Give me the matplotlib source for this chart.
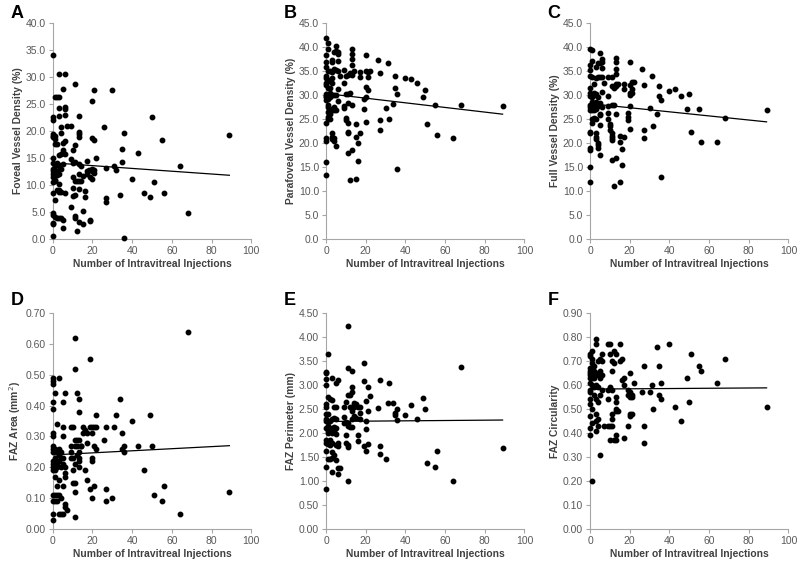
import matplotlib
matplotlib.use("Agg")
import matplotlib.pyplot as plt
import matplotlib.ticker as ticker

plt.rcParams['font.family'] = ['Liberation Sans', 'DejaVu Sans']

# panel data: injections -> list of measured values
fovea_vd = {0: [34.0, 22.5, 22.0, 19.5, 19.0, 18.8, 15.0, 14.0, 13.0, 12.5, 12.0, 11.5, 10.5, 8.5, 4.8, 4.5, 3.0, 2.7, 0.5],
            1: [26.2, 19.0, 18.5, 17.5, 13.5, 11.0, 10.8, 7.2, 4.0],
            2: [26.2, 17.5, 14.0, 12.5, 11.8, 9.0, 3.8],
            3: [30.6, 26.2, 24.2, 22.8, 15.5, 13.5, 12.0, 10.2, 8.7, 9.0, 3.8],
            4: [20.8, 19.6, 15.8, 13.0, 8.7, 3.8],
            5: [27.8, 17.8, 16.5, 16.0, 13.8, 3.6, 2.0],
            6: [30.5, 24.4, 24.0, 23.0, 18.2, 15.8, 8.5],
            7: [21.0], 9: [21.0, 14.8, 6.0], 10: [16.5, 14.0, 11.4, 9.5, 8.0],
            11: [28.7, 17.4, 14.3, 10.8, 8.2, 4.2, 3.8], 12: [10.8, 1.5],
            13: [22.8, 19.8, 19.4, 18.8, 13.8, 12.0, 10.8, 9.3, 3.2], 14: [10.8, 13.5],
            15: [11.7, 5.2, 2.8], 16: [8.8, 7.8], 17: [14.5, 12.5, 12.0], 18: [12.8],
            19: [11.5, 3.6, 3.3], 20: [25.5, 18.7, 13.0, 12.5, 11.2], 21: [27.6, 18.4, 12.8, 12.3],
            22: [15.0], 26: [20.8], 27: [13.2, 7.5, 6.9], 30: [27.6], 31: [13.5], 32: [12.8],
            34: [8.2], 35: [16.6, 14.3], 36: [19.6, 0.2], 40: [11.2], 43: [16.0], 46: [8.5],
            49: [7.8], 50: [22.6], 51: [10.5], 55: [18.3], 56: [8.6], 64: [13.5], 68: [4.9], 89: [19.3]}

parafovea_vd = {0: [41.8, 38.3, 36.8, 35.8, 34.0, 33.5, 32.5, 32.0, 30.2, 29.8, 29.5, 29.0, 24.2, 21.0, 20.5, 16.0, 13.3],
                1: [40.8, 39.5, 35.0, 33.2, 31.5, 30.0, 29.2, 28.0, 27.5, 26.5, 25.5, 25.0],
                2: [35.0, 33.0, 31.5, 30.5, 29.5, 27.0, 26.0, 25.0],
                3: [37.3, 36.8, 34.8, 33.5, 32.5, 30.0, 26.8, 22.0, 21.2, 20.8],
                4: [39.0, 35.5, 30.0, 27.5, 26.8, 21.0, 20.5],
                5: [40.3, 39.2, 35.3, 30.0, 26.8, 19.3],
                6: [39.0, 38.5, 37.0, 35.0, 31.2, 28.8],
                7: [34.0], 9: [35.3, 32.5, 27.6, 27.2], 10: [34.0, 30.3, 25.3, 24.8],
                11: [34.2, 30.2, 28.3, 24.2, 22.2, 22.0, 18.0], 12: [34.5, 30.4, 12.3],
                13: [39.5, 38.5, 37.5, 36.3, 34.2, 28.0, 18.5], 14: [35.0],
                15: [24.0, 21.3, 12.6], 16: [20.0, 16.2], 17: [34.8, 33.8, 22.0],
                19: [29.1, 27.0], 20: [38.3, 35.0, 31.6, 29.5, 24.3], 21: [34.8, 33.7, 31.0],
                22: [35.0], 26: [37.3], 27: [34.5, 24.8, 22.7], 30: [27.2], 31: [36.6], 32: [25.0],
                34: [28.2], 35: [34.0, 31.5], 36: [30.2, 14.5], 40: [33.5], 43: [33.3], 46: [32.4],
                49: [29.5], 50: [31.0], 51: [23.9], 55: [27.9], 56: [21.7], 64: [21.0], 68: [27.9], 89: [27.8]}

full_vd = {0: [39.6, 36.3, 35.2, 34.0, 31.5, 30.5, 29.8, 28.0, 27.5, 26.8, 22.3, 22.0, 19.0, 18.5, 15.1, 11.8],
           1: [39.3, 37.0, 33.8, 30.0, 29.5, 28.5, 27.8, 26.8, 25.0, 24.2],
           2: [32.2, 30.5, 30.0, 28.2, 26.8, 25.3],
           3: [35.8, 33.5, 30.3, 28.5, 27.0, 25.0, 22.0, 21.2, 20.8],
           4: [36.7, 33.7, 29.5, 27.8, 20.0, 19.5, 19.0],
           5: [38.8, 36.7, 33.8, 28.3, 26.0, 25.8, 23.8, 17.4],
           6: [37.5, 36.8, 35.6, 33.8, 30.6, 27.5],
           7: [32.5], 9: [33.8, 29.7, 27.8, 26.2, 25.0], 10: [24.0, 23.5, 22.8],
           11: [33.8, 31.8, 28.0, 22.0, 21.5, 21.0, 20.6, 16.5], 12: [31.5, 28.0, 11.1],
           13: [37.6, 36.8, 35.4, 34.4, 32.2, 31.8, 26.0, 16.8], 14: [32.2],
           15: [21.5, 20.2, 11.9], 16: [18.7, 15.4], 17: [32.2, 31.2, 21.2],
           19: [26.2, 25.5, 24.7], 20: [36.8, 32.0, 30.5, 30.0, 27.8, 23.0], 21: [32.7, 31.3, 30.5],
           22: [32.7], 26: [35.5], 27: [32.1, 22.7, 21.0], 30: [27.2], 31: [34.0], 32: [23.5],
           34: [26.0], 35: [31.8, 29.8], 36: [29.0, 12.9], 40: [30.9], 43: [31.3], 46: [29.7],
           49: [27.1], 50: [30.1], 51: [22.3], 55: [27.0], 56: [20.3], 64: [20.3], 68: [25.3], 89: [26.8]}

faz_area = {0: [0.49, 0.48, 0.47, 0.41, 0.39, 0.31, 0.30, 0.27, 0.26, 0.25, 0.22, 0.21, 0.20, 0.19, 0.11, 0.09, 0.05, 0.03],
            1: [0.44, 0.26, 0.23, 0.21, 0.20, 0.19, 0.17, 0.11, 0.09],
            2: [0.34, 0.25, 0.22, 0.21, 0.20, 0.14, 0.11, 0.09],
            3: [0.49, 0.26, 0.24, 0.22, 0.16, 0.11, 0.05],
            4: [0.25, 0.23, 0.20, 0.10, 0.05],
            5: [0.41, 0.33, 0.30, 0.23, 0.21, 0.14, 0.05],
            6: [0.44, 0.20, 0.18, 0.17, 0.08, 0.07],
            7: [0.06], 9: [0.33, 0.27, 0.25, 0.23], 10: [0.33, 0.23, 0.19, 0.15],
            11: [0.62, 0.52, 0.29, 0.27, 0.21, 0.15, 0.12, 0.04], 12: [0.44, 0.29, 0.27, 0.24],
            13: [0.42, 0.38, 0.29, 0.25, 0.23, 0.22, 0.20], 14: [0.27, 0.27],
            15: [0.33, 0.31], 16: [0.32, 0.19], 17: [0.31, 0.28, 0.16],
            19: [0.55, 0.33, 0.13], 20: [0.33, 0.31, 0.23, 0.22, 0.10], 21: [0.33, 0.27, 0.14],
            22: [0.37, 0.33, 0.26], 26: [0.29], 27: [0.33, 0.13, 0.09], 30: [0.10], 31: [0.33],
            32: [0.37], 34: [0.42], 35: [0.31, 0.26], 36: [0.27, 0.25], 40: [0.35], 43: [0.27],
            46: [0.19], 49: [0.37], 50: [0.27], 51: [0.11], 55: [0.09], 56: [0.14], 64: [0.05],
            68: [0.64], 89: [0.12]}

faz_perim = {0: [3.27, 3.25, 3.13, 3.00, 2.60, 2.55, 2.40, 2.30, 2.25, 2.10, 1.85, 1.80, 1.63, 1.30, 0.83],
             1: [3.65, 2.75, 2.40, 2.22, 2.15, 2.05, 2.00, 1.78, 1.45],
             2: [2.70, 2.25, 2.05, 1.85, 1.75, 1.45],
             3: [3.15, 2.68, 2.30, 2.10, 2.00, 1.80, 1.60, 1.48, 1.18],
             4: [2.55, 2.32, 2.12, 2.05, 1.55],
             5: [3.05, 2.55, 2.30, 2.10, 1.97, 1.75, 1.43],
             6: [3.10, 1.80, 1.72, 1.28, 1.15],
             7: [1.28], 9: [2.55, 2.33, 2.20], 10: [2.65, 2.22, 1.95, 1.80],
             11: [4.22, 3.35, 2.80, 2.20, 2.15, 1.75, 1.70, 1.00], 12: [2.80, 2.55, 2.12],
             13: [3.30, 2.95, 2.85, 2.55, 2.45, 2.30, 2.12], 14: [2.63, 2.55, 2.35],
             15: [2.60, 2.32], 16: [2.55, 1.95, 1.83], 17: [2.55, 2.42, 2.30],
             19: [3.45, 3.08, 1.72], 20: [2.67, 2.25, 2.08, 1.63], 21: [2.95, 2.45, 1.78],
             22: [2.78], 26: [2.53], 27: [3.10, 1.72, 1.57], 30: [1.46], 31: [2.62], 32: [3.05],
             34: [2.63], 35: [2.42, 2.38], 36: [2.50, 2.28], 40: [2.38], 43: [2.58], 46: [2.30],
             49: [2.72], 50: [2.50], 51: [1.38], 55: [1.30], 56: [1.62], 64: [1.00], 68: [3.38], 89: [1.68]}

faz_circ = {0: [0.73, 0.72, 0.67, 0.66, 0.65, 0.64, 0.63, 0.61, 0.58, 0.57, 0.54, 0.52, 0.47, 0.42, 0.39],
            1: [0.74, 0.71, 0.69, 0.67, 0.65, 0.64, 0.63, 0.60, 0.50, 0.44, 0.20],
            2: [0.68, 0.66, 0.64, 0.63, 0.59, 0.56],
            3: [0.79, 0.77, 0.65, 0.60, 0.54, 0.48, 0.45, 0.41],
            4: [0.70, 0.64, 0.59, 0.53, 0.46, 0.43],
            5: [0.71, 0.66, 0.63, 0.56, 0.31],
            6: [0.73, 0.70, 0.64, 0.58],
            7: [0.43], 9: [0.77, 0.58, 0.54, 0.43], 10: [0.77, 0.73, 0.59, 0.43, 0.37],
            11: [0.70, 0.66, 0.58, 0.48, 0.46, 0.43], 12: [0.74, 0.69, 0.37],
            13: [0.73, 0.55, 0.53, 0.50, 0.49, 0.39, 0.37], 14: [0.49],
            15: [0.77, 0.70], 16: [0.71, 0.62], 17: [0.63, 0.60, 0.38],
            19: [0.58, 0.56, 0.43], 20: [0.65, 0.57, 0.55, 0.48, 0.47], 21: [0.56, 0.55, 0.48],
            22: [0.61], 26: [0.57], 27: [0.68, 0.43, 0.36], 30: [0.57], 31: [0.60], 32: [0.50],
            34: [0.76], 35: [0.68, 0.56], 36: [0.61, 0.54], 40: [0.77], 43: [0.51], 46: [0.45],
            49: [0.63], 50: [0.53], 51: [0.73], 55: [0.68], 56: [0.66], 64: [0.61], 68: [0.71], 89: [0.51]}

# trend line values at x=0 and x=89
trend_x = [0, 89]
trend_a = [14.1, 11.8]
trend_b = [30.3, 26.0]
trend_c = [28.2, 24.4]
trend_d = [0.240, 0.270]
trend_e = [2.24, 2.27]
trend_f = [0.583, 0.588]

letters = ['A', 'B', 'C', 'D', 'E', 'F']
ylabels = ['Foveal Vessel Density (%)', 'Parafoveal Vessel Density (%)', 'Full Vessel Density (%)',
           'FAZ Area (mm$^2$)', 'FAZ Perimeter (mm)', 'FAZ Circularity']
ymaxes = [40, 45, 45, 0.70, 4.50, 0.90]
ysteps = [5, 5, 5, 0.10, 0.50, 0.10]
yfmts = ['%.1f', '%.1f', '%.1f', '%.2f', '%.2f', '%.2f']
xlabel = 'Number of Intravitreal Injections'

datasets = [fovea_vd, parafovea_vd, full_vd, faz_area, faz_perim, faz_circ]
trends = [trend_a, trend_b, trend_c, trend_d, trend_e, trend_f]

fig = plt.figure(figsize=(8, 5.67), dpi=100, facecolor='w')

lefts = [0.066, 0.4075, 0.7375]
bottoms = [0.5785, 0.067]
letter_tops = [1 - 5 / 567, 1 - 292 / 567]
W, H = 0.248, 0.381
grey = '#a6a6a6'
tick_col = '#595959'

for i in range(6):
    row, col = divmod(i, 3)
    ax = fig.add_axes([lefts[col], bottoms[row], W, H])
    data = datasets[i]
    xs, ys = [], []
    for k, vals in data.items():
        for v in vals:
            xs.append(k)
            ys.append(v)
    ax.plot(xs, ys, 'o', color='black', markersize=3.2, clip_on=False, zorder=3)
    ax.plot(trend_x, trends[i], '-', color='black', linewidth=0.9)

    ax.set_xlim(0, 100)
    ax.set_ylim(0, ymaxes[i])
    ax.xaxis.set_major_locator(ticker.MultipleLocator(20))
    ax.yaxis.set_major_locator(ticker.MultipleLocator(ysteps[i]))
    ax.yaxis.set_major_formatter(ticker.FormatStrFormatter(yfmts[i]))

    for s in ['top', 'right']:
        ax.spines[s].set_visible(False)
    for s in ['left', 'bottom']:
        ax.spines[s].set_color(grey)
        ax.spines[s].set_linewidth(0.8)
    ax.tick_params(axis='both', colors=grey, labelcolor=tick_col, labelsize=7.5,
                   length=3, width=0.8, pad=2)

    ax.set_xlabel(xlabel, fontsize=7.4, fontweight='bold', color='#404040', labelpad=2)
    ax.set_ylabel(ylabels[i], fontsize=7.4, fontweight='bold', color='#404040', labelpad=2)

    fig.text(lefts[col] - 0.053, letter_tops[row], letters[i],
             fontsize=13, fontweight='bold', color='black', ha='left', va='top')

plt.savefig('out.png', dpi=100)
plt.close()
